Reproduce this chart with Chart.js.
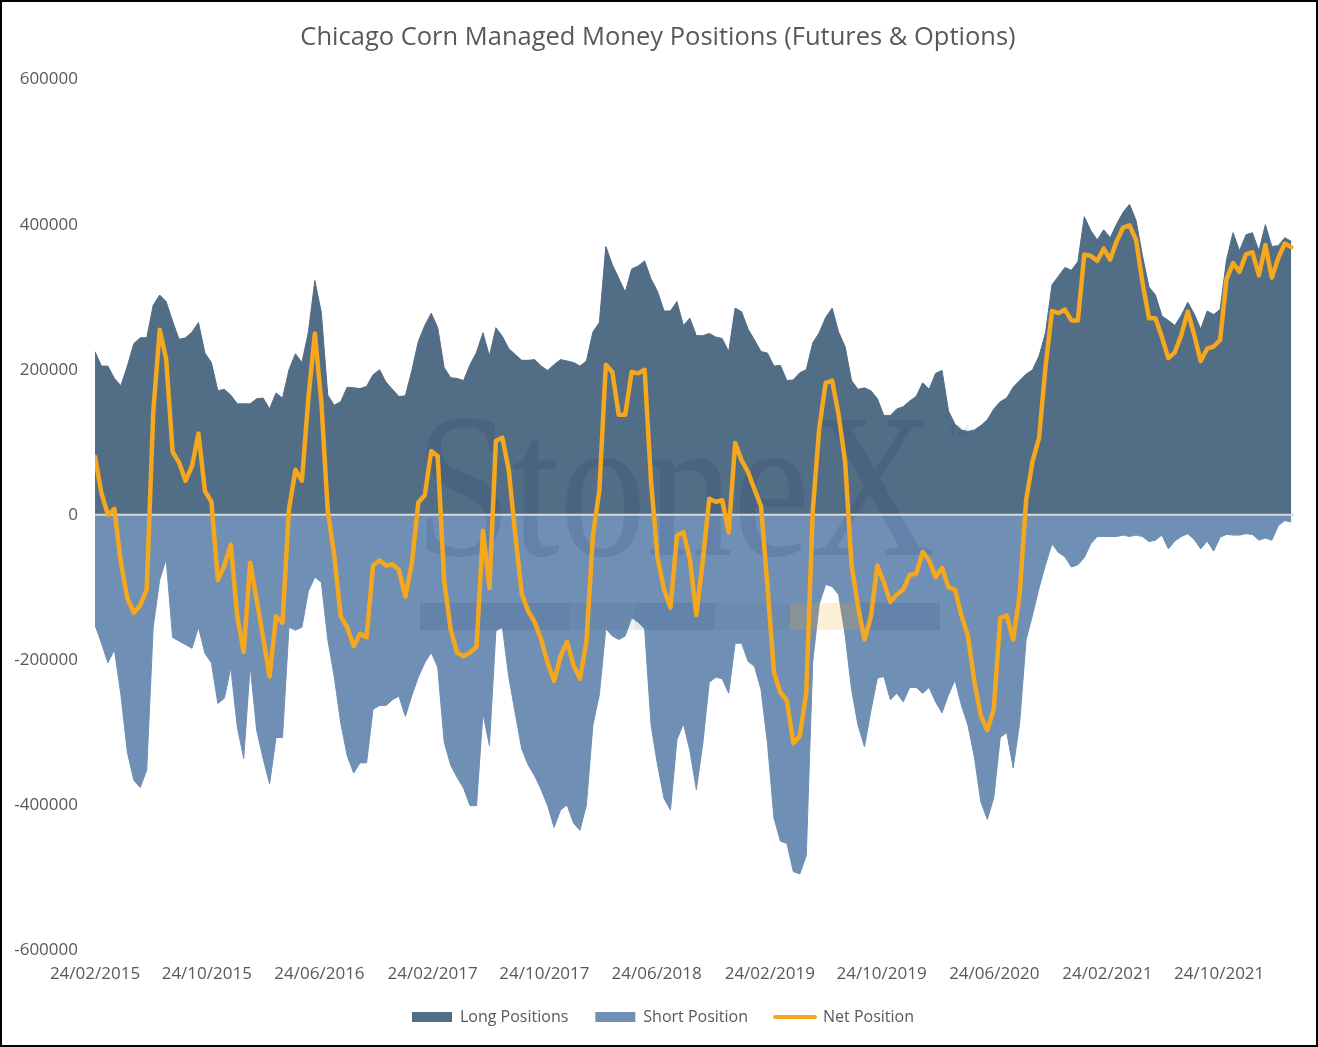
<!DOCTYPE html>
<html>
<head>
<meta charset="utf-8">
<title>Chicago Corn Managed Money Positions</title>
<script src="https://cdn.jsdelivr.net/npm/chart.js@4.4.1/dist/chart.umd.min.js"></script>
<style>
    html, body { margin: 0; padding: 0; background: #fff; }
    #frame { width: 1318px; height: 1047px; box-sizing: border-box; border: 2px solid #000; background: #fff; }
    #frame canvas { display: block; }
</style>
</head>
<body>
<div id="frame"><canvas id="cornChart" width="1314" height="1043"></canvas></div>
<script>
// weekly COT reports, one value every second Tuesday from 24/02/2015
const startDate = '24/02/2015';
const stepDays = 14;

const tickLabels = ['24/02/2015', '24/10/2015', '24/06/2016', '24/02/2017', '24/10/2017', '24/06/2018',
    '24/02/2019', '24/10/2019', '24/06/2020', '24/02/2021', '24/10/2021'];

const longPositions = [
    225000, 205000, 205000, 188000, 178000, 205000, 236000, 244000, 244000, 289000,
    303000, 294000, 267000, 242000, 244000, 252000, 265000, 223000, 210000, 171000,
    173000, 165000, 153000, 153000, 153000, 160000, 161000, 146000, 168000, 161000,
    200000, 222000, 210000, 252000, 323000, 279000, 165000, 151000, 156000, 176000,
    175000, 174000, 177000, 193000, 200000, 183000, 173000, 163000, 164000, 199000,
    239000, 261000, 278000, 258000, 203000, 189000, 188000, 185000, 207000, 224000,
    251000, 219000, 258000, 246000, 229000, 221000, 213000, 213000, 214000, 205000,
    199000, 207000, 214000, 212000, 210000, 205000, 212000, 252000, 265000, 370000,
    345000, 326000, 307000, 339000, 343000, 350000, 325000, 308000, 281000, 281000,
    294000, 261000, 271000, 247000, 247000, 250000, 245000, 243000, 225000, 285000,
    280000, 256000, 241000, 225000, 223000, 205000, 206000, 185000, 186000, 196000,
    200000, 237000, 251000, 272000, 285000, 252000, 232000, 185000, 173000, 175000,
    171000, 160000, 137000, 137000, 146000, 149000, 157000, 163000, 182000, 173000,
    195000, 199000, 143000, 125000, 117000, 115000, 117000, 123000, 131000, 146000,
    156000, 161000, 176000, 185000, 194000, 200000, 219000, 251000, 317000, 329000,
    341000, 337000, 349000, 411000, 392000, 379000, 393000, 382000, 401000, 417000,
    428000, 406000, 357000, 314000, 303000, 274000, 268000, 261000, 275000, 293000,
    277000, 256000, 281000, 276000, 283000, 352000, 389000, 364000, 386000, 389000,
    364000, 400000, 370000, 371000, 382000, 377000
];

const shortPositions = [
    -152000, -177000, -204000, -186000, -248000, -327000, -366000, -376000, -352000, -155000,
    -90000, -61000, -169000, -174000, -179000, -184000, -155000, -191000, -204000, -260000,
    -253000, -211000, -292000, -336000, -208000, -297000, -336000, -371000, -307000, -307000,
    -155000, -159000, -155000, -105000, -86000, -93000, -172000, -223000, -287000, -332000,
    -356000, -342000, -342000, -268000, -263000, -263000, -255000, -250000, -278000, -249000,
    -224000, -204000, -190000, -210000, -313000, -345000, -362000, -377000, -401000, -401000,
    -274000, -318000, -160000, -155000, -224000, -274000, -323000, -345000, -360000, -379000,
    -401000, -431000, -407000, -400000, -425000, -435000, -400000, -290000, -248000, -157000,
    -167000, -172000, -167000, -142000, -148000, -157000, -290000, -345000, -391000, -407000,
    -310000, -288000, -325000, -379000, -315000, -231000, -224000, -226000, -246000, -177000,
    -177000, -202000, -209000, -241000, -315000, -418000, -450000, -453000, -492000, -495000,
    -470000, -202000, -123000, -96000, -99000, -110000, -165000, -241000, -290000, -320000,
    -270000, -225000, -223000, -255000, -246000, -258000, -238000, -238000, -246000, -238000,
    -258000, -273000, -248000, -228000, -263000, -290000, -334000, -396000, -420000, -390000,
    -307000, -300000, -349000, -287000, -172000, -138000, -101000, -69000, -40000, -52000,
    -58000, -72000, -69000, -59000, -40000, -30000, -30000, -30000, -30000, -28000,
    -30000, -28000, -30000, -37000, -35000, -28000, -47000, -36000, -30000, -26000,
    -34000, -47000, -36000, -50000, -31000, -27000, -28000, -28000, -26000, -27000,
    -35000, -32000, -35000, -15000, -8000, -10000
];

const netPositions = [
    80000, 30000, 0, 8000, -66000, -115000, -135000, -125000, -103000, 140000,
    255000, 215000, 87000, 72000, 47000, 67000, 112000, 33000, 18000, -90000,
    -70000, -41000, -140000, -189000, -66000, -117000, -169000, -223000, -140000, -149000,
    8000, 62000, 47000, 161000, 250000, 156000, 5000, -56000, -140000, -155000,
    -181000, -164000, -169000, -70000, -63000, -70000, -68000, -76000, -113000, -67000,
    17000, 27000, 88000, 81000, -91000, -158000, -190000, -195000, -190000, -182000,
    -22000, -101000, 102000, 106000, 61000, -28000, -109000, -133000, -148000, -172000,
    -204000, -229000, -195000, -175000, -207000, -226000, -175000, -29000, 34000, 207000,
    197000, 138000, 138000, 197000, 195000, 200000, 45000, -59000, -103000, -128000,
    -29000, -24000, -61000, -138000, -63000, 22000, 18000, 20000, -24000, 99000,
    75000, 59000, 35000, 12000, -98000, -217000, -245000, -256000, -315000, -305000,
    -245000, 5000, 119000, 182000, 185000, 138000, 74000, -69000, -126000, -172000,
    -140000, -70000, -93000, -120000, -110000, -103000, -83000, -81000, -51000, -63000,
    -86000, -73000, -100000, -103000, -139000, -167000, -230000, -277000, -297000, -268000,
    -142000, -139000, -172000, -110000, 20000, 74000, 106000, 204000, 281000, 278000,
    283000, 268000, 268000, 359000, 357000, 350000, 367000, 352000, 377000, 396000,
    399000, 379000, 320000, 271000, 271000, 245000, 216000, 224000, 248000, 280000,
    248000, 212000, 229000, 232000, 241000, 325000, 347000, 335000, 359000, 362000,
    330000, 372000, 327000, 354000, 374000, 369000
];

const textColor = '#595959';
const longColor = '#526d86';
const shortColor = '#6f8fb5';
const netColor = '#f5a71e';

// days since the first report
const toDay = function (label) {
    const p = label.split('/');
    const start = startDate.split('/');
    const t = Date.UTC(+p[2], +p[1] - 1, +p[0]);
    const t0 = Date.UTC(+start[2], +start[1] - 1, +start[0]);
    return Math.round((t - t0) / 86400000);
}

const tickDays = tickLabels.map(toDay);

const toPoints = function (values) {
    return values.map((v, i) => ({ x: i * stepDays, y: v }));
}

// faint logo + zero line, drawn after the areas but under the net line
const backdrop = {
    id: 'backdrop',
    afterLayout(chart) {
        // title and legend sit a little right of the canvas centre in the original
        chart.titleBlock.left += 10;
        chart.titleBlock.right += 10;
        chart.legend.left += 15;
        chart.legend.right += 15;
    },
    afterDatasetDraw(chart, args) {
        if (args.index !== 0) return;
        const ctx = chart.ctx;
        const area = chart.chartArea;
        const y0 = chart.scales.y.getPixelForValue(0);

        ctx.save();
        ctx.fillStyle = 'rgba(25, 50, 90, 0.13)';
        ctx.font = '205px "Liberation Serif", "DejaVu Serif", serif';
        ctx.textAlign = 'left';
        ctx.textBaseline = 'alphabetic';
        ctx.fillText('StoneX', 413, 553, 520);
        ctx.font = '15px "Liberation Sans", sans-serif';
        ctx.fillText('TM', 946, 433);

        ctx.fillStyle = 'rgba(25, 50, 90, 0.12)';
        ctx.fillRect(418, 601, 150, 27);
        ctx.fillStyle = 'rgba(25, 50, 90, 0.07)';
        ctx.fillRect(568, 601, 65, 27);
        ctx.fillStyle = 'rgba(25, 50, 90, 0.12)';
        ctx.fillRect(633, 601, 80, 27);
        ctx.fillStyle = 'rgba(90, 100, 110, 0.10)';
        ctx.fillRect(713, 601, 75, 27);
        ctx.fillStyle = 'rgba(245, 167, 30, 0.18)';
        ctx.fillRect(788, 601, 70, 27);
        ctx.fillStyle = 'rgba(25, 50, 90, 0.12)';
        ctx.fillRect(858, 601, 80, 27);

        ctx.strokeStyle = '#d9d9d9';
        ctx.lineWidth = 2;
        ctx.beginPath();
        ctx.moveTo(area.left, y0);
        ctx.lineTo(area.right, y0);
        ctx.stroke();
        ctx.restore();
    }
};

new Chart(document.getElementById('cornChart'), {
    type: 'line',
    data: {
        datasets: [{
            label: 'Long Positions',
            data: toPoints(longPositions),
            backgroundColor: longColor,
            borderColor: longColor,
            borderWidth: 1,
            fill: 'origin',
            pointRadius: 0,
            order: 1,
        }, {
            label: 'Short Position',
            data: toPoints(shortPositions),
            backgroundColor: shortColor,
            borderColor: shortColor,
            borderWidth: 1,
            fill: 'origin',
            pointRadius: 0,
            order: 2,
        }, {
            label: 'Net Position',
            data: toPoints(netPositions),
            borderColor: netColor,
            backgroundColor: netColor,
            borderWidth: 4.5,
            borderJoinStyle: 'round',
            borderCapStyle: 'round',
            fill: false,
            pointRadius: 0,
            order: 0,
        }],
    },
    options: {
        responsive: false,
        animation: false,
        layout: {
            padding: { top: 0, right: 22, bottom: 10, left: 0 }
        },
        plugins: {
            title: {
                display: true,
                text: 'Chicago Corn Managed Money Positions (Futures & Options)',
                color: textColor,
                font: { family: '"Open Sans"', size: 25.5, weight: 'normal' },
                padding: { top: 20, bottom: 27 }
            },
            legend: {
                position: 'bottom',
                labels: {
                    color: textColor,
                    font: { family: '"Open Sans"', size: 16 },
                    usePointStyle: true,
                    pointStyleWidth: 40,
                    boxHeight: 10,
                    padding: 27,
                    generateLabels: function (chart) {
                        return chart.data.datasets.map(function (ds, i) {
                            const isLine = ds.fill === false;
                            return {
                                text: ds.label,
                                datasetIndex: i,
                                fillStyle: isLine ? ds.borderColor : ds.backgroundColor,
                                strokeStyle: ds.borderColor,
                                lineWidth: isLine ? 4 : 0,
                                lineCap: 'round',
                                pointStyle: isLine ? 'line' : 'rect',
                                fontColor: textColor,
                                hidden: false
                            };
                        });
                    }
                }
            },
            tooltip: { enabled: false }
        },
        scales: {
            x: {
                type: 'linear',
                min: 0,
                max: 2596,
                grid: { display: false, drawTicks: false },
                border: { display: false },
                afterBuildTicks: function (scale) {
                    scale.ticks = tickDays.map(d => ({ value: d }));
                },
                afterFit: function (scale) {
                    scale.height = 32;
                },
                ticks: {
                    autoSkip: false,
                    maxRotation: 0,
                    padding: 14,
                    color: textColor,
                    font: { family: '"Open Sans"', size: 17 },
                    callback: function (value, index) {
                        return tickLabels[index];
                    }
                }
            },
            y: {
                min: -600000,
                max: 600000,
                grid: { display: false, drawTicks: false },
                border: { display: false },
                afterFit: function (scale) {
                    scale.width = 93;
                },
                ticks: {
                    stepSize: 200000,
                    padding: 17,
                    color: textColor,
                    font: { family: '"Open Sans"', size: 17 },
                    callback: function (value) {
                        return String(value);
                    }
                }
            }
        }
    },
    plugins: [backdrop]
});
</script>
</body>
</html>
